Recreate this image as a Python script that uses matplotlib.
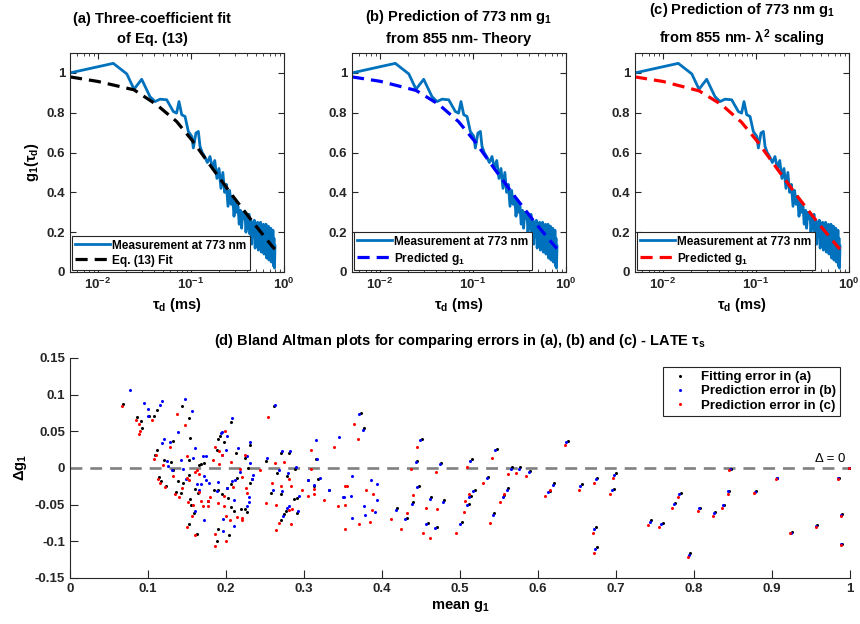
import numpy as np
import matplotlib
matplotlib.use('Agg')
import matplotlib.pyplot as plt

plt.rcParams['font.family'] = ['Liberation Sans', 'DejaVu Sans']
plt.rcParams['font.weight'] = 'bold'
plt.rcParams['font.size'] = 9.5
plt.rcParams['axes.titleweight'] = 'bold'
plt.rcParams['axes.labelweight'] = 'bold'
plt.rcParams['mathtext.fontset'] = 'custom'
plt.rcParams['mathtext.rm'] = 'Liberation Sans:bold'
plt.rcParams['mathtext.bf'] = 'Liberation Sans:bold'
plt.rcParams['mathtext.it'] = 'Liberation Sans:italic'
plt.rcParams['mathtext.default'] = 'bf'

# ---- top panels: measured g1 at 773 nm ----
meas_x = [0.005, 0.0146, 0.0204, 0.0244, 0.0295, 0.0362, 0.041, 0.0465, 0.0548, 0.0646,
          0.070, 0.0743, 0.0795, 0.0863, 0.0936, 0.102, 0.106, 0.113, 0.120, 0.125, 0.132,
          0.14, 0.15, 0.16, 0.17, 0.18, 0.19, 0.20, 0.21, 0.22, 0.23, 0.24, 0.25, 0.26, 0.27,
          0.28, 0.29, 0.30, 0.31, 0.32, 0.33, 0.34, 0.35, 0.36, 0.37, 0.38, 0.39, 0.40, 0.41,
          0.42, 0.43, 0.44, 0.45, 0.46, 0.47, 0.48, 0.49, 0.50, 0.51, 0.52, 0.53, 0.54, 0.55,
          0.56, 0.57, 0.58, 0.59, 0.60, 0.61, 0.62, 0.63, 0.64, 0.65, 0.66, 0.67, 0.68, 0.69,
          0.70, 0.71, 0.72, 0.73, 0.74, 0.75, 0.76, 0.77, 0.78, 0.79, 0.80]
meas_y = [1.0, 1.048, 0.995, 0.918, 0.968, 0.881, 0.856, 0.868, 0.865, 0.806,
          0.798, 0.856, 0.79, 0.781, 0.706, 0.681, 0.623, 0.698, 0.706, 0.631, 0.60,
          0.58, 0.55, 0.58, 0.52, 0.56, 0.47, 0.52, 0.42, 0.50, 0.40, 0.44, 0.33, 0.41, 0.34,
          0.38, 0.28, 0.35, 0.30, 0.33, 0.24, 0.31, 0.22, 0.30, 0.27, 0.30, 0.20, 0.28, 0.22,
          0.29, 0.19, 0.26, 0.14, 0.25, 0.18, 0.26, 0.12, 0.24, 0.16, 0.25, 0.11, 0.23, 0.15,
          0.25, 0.10, 0.22, 0.13, 0.24, 0.09, 0.21, 0.12, 0.24, 0.07, 0.20, 0.11, 0.23, 0.06,
          0.21, 0.10, 0.22, 0.05, 0.19, 0.08, 0.21, 0.03, 0.17, 0.02, 0.13]

fit_x = [0.005, 0.01, 0.0244, 0.0428, 0.07, 0.105, 0.174, 0.283, 0.465, 0.762, 0.8]
fit_y = [0.98, 0.957, 0.915, 0.84, 0.756, 0.656, 0.514, 0.38, 0.249, 0.124, 0.115]
theory_y = [0.98, 0.958, 0.912, 0.842, 0.755, 0.655, 0.512, 0.378, 0.248, 0.128, 0.118]
scaled_y = [0.98, 0.957, 0.910, 0.840, 0.752, 0.652, 0.510, 0.376, 0.246, 0.125, 0.115]

# ---- Bland-Altman data (mean g1, delta g1) ----
black_mean = [0.068, 0.086, 0.091, 0.092, 0.101, 0.108, 0.112, 0.143, 0.153, 0.154, 0.153, 0.132,
              0.112, 0.1085, 0.121, 0.129, 0.1325, 0.114, 0.117, 0.123, 0.136, 0.138, 0.1445,
              0.152, 0.1427, 0.154, 0.155, 0.1586, 0.152, 0.163, 0.165, 0.168, 0.172, 0.1645,
              0.160, 0.177, 0.1846, 0.189, 0.190, 0.192, 0.197, 0.206, 0.195, 0.203, 0.206,
              0.2107, 0.1897, 0.204, 0.189, 0.2017, 0.207, 0.2145, 0.2128, 0.2197, 0.2248,
              0.2265, 0.2308, 0.2337, 0.224, 0.2286, 0.2303, 0.251, 0.2615, 0.266, 0.2573,
              0.2705, 0.270, 0.281, 0.2705, 0.274, 0.2765, 0.2786, 0.288, 0.287, 0.2906,
              0.2906, 0.3056, 0.313, 0.318, 0.315, 0.3325, 0.1897,
              0.373, 0.377, 0.419, 0.432, 0.440, 0.447, 0.445, 0.451, 0.459, 0.463, 0.470,
              0.476, 0.480, 0.502, 0.511, 0.5135, 0.519, 0.515, 0.536, 0.544, 0.547, 0.557,
              0.562, 0.567, 0.577, 0.590, 0.615, 0.6205, 0.638, 0.656, 0.674, 0.675, 0.676,
              0.700, 0.697, 0.745, 0.760, 0.776, 0.783, 0.795, 0.808, 0.827, 0.838, 0.845,
              0.847, 0.879, 0.907, 0.925, 0.958, 0.986, 0.990, 0.990, 1.0]
black_diff = [0.087, 0.070, 0.064, 0.054, 0.071, 0.071, 0.079, 0.085, 0.068, 0.041, 0.011, 0.037,
              0.024, 0.018, 0.011, 0.008, -0.003, -0.012, -0.018, -0.024, -0.033, -0.018, -0.021,
              -0.009, -0.034, -0.042, -0.050, -0.061, -0.077, -0.090, 0.004, 0.005, 0.007, -0.034,
              -0.028, -0.045, -0.030, 0.024, 0.040, 0.043, 0.036, 0.063, -0.036, -0.041, -0.053,
              -0.059, -0.083, -0.091, -0.100, -0.027, -0.022, -0.014, 0.020, -0.056, -0.0555,
              -0.060, -0.021, -0.015, 0.0136, 0.0004, 0.032, 0.010, 0.085, -0.007, -0.034,
              -0.036, 0.020, 0.021, -0.0714, -0.0623, -0.059, -0.0114, -0.0014, -0.042, -0.041,
              -0.0614, -0.016, -0.025, -0.015, 0.0123, -0.030, -0.030,
              0.075, 0.054, -0.055, -0.068, -0.047, -0.024, 0.010, 0.040, -0.075, -0.040, -0.080,
              0.007, -0.044, -0.074, -0.049, -0.038, -0.030, 0.012, -0.012, -0.062, 0.026, -0.037,
              -0.027, 0.001, 0.001, -0.004, -0.031, -0.020, 0.037, -0.022, -0.081, -0.108, -0.013,
              -0.007, -0.028, -0.071, -0.075, -0.048, -0.034, -0.116, -0.054, -0.060, -0.050, -0.031,
              -0.001, -0.032, -0.013, -0.087, -0.078, -0.013, -0.063, -0.103, 0.0]

blue_mean = [0.0774, 0.095, 0.0996, 0.1004, 0.116, 0.118, 0.147, 0.157, 0.138, 0.160, 0.142,
             0.1286, 0.1205, 0.1175, 0.124, 0.126, 0.131, 0.1453, 0.1483, 0.160, 0.172, 0.158,
             0.170, 0.174, 0.166, 0.163, 0.168, 0.172, 0.174, 0.178, 0.188, 0.190, 0.193,
             0.195, 0.201, 0.208, 0.1945, 0.200, 0.2107, 0.1966, 0.210, 0.1966, 0.2017, 0.2073,
             0.212, 0.216, 0.218, 0.2265, 0.230, 0.230, 0.233, 0.235, 0.2265, 0.2308, 0.2308,
             0.253, 0.263, 0.268, 0.260, 0.272, 0.2714, 0.282, 0.273, 0.2786, 0.281, 0.280,
             0.2897, 0.293, 0.292, 0.3056, 0.313, 0.320, 0.316, 0.317, 0.3325, 0.345, 0.351,
             0.361, 0.350, 0.360, 0.361, 0.377, 0.378, 0.386, 0.391, 0.393, 0.394,
             0.371, 0.375, 0.4175, 0.430, 0.438, 0.4455, 0.443, 0.449, 0.457, 0.461, 0.468,
             0.474, 0.478, 0.500, 0.509, 0.5115, 0.517, 0.513, 0.534, 0.542, 0.545, 0.555,
             0.560, 0.565, 0.575, 0.588, 0.613, 0.619, 0.636, 0.654, 0.672, 0.6735, 0.674,
             0.698, 0.6955, 0.743, 0.758, 0.774, 0.781, 0.7935, 0.807, 0.8255, 0.837, 0.844,
             0.846, 0.878, 0.906, 0.924, 0.957, 0.985, 0.989, 0.989, 0.999]
blue_diff = [0.107, 0.088, 0.081, 0.071, 0.086, 0.092, 0.094, 0.078, 0.049, 0.027, 0.011,
             0.036, 0.040, 0.034, 0.009, 0.003, -0.003, -0.001, -0.015, -0.058, -0.0714, 0.0136,
             0.016, 0.016, -0.030, -0.022, -0.022, -0.0105, -0.016, -0.021, -0.032, -0.019, 0.048,
             0.0495, 0.043, 0.068, 0.018, 0.025, -0.043, -0.069, -0.079, -0.0855, -0.027, -0.018,
             -0.016, 0.027, -0.006, -0.0514, -0.047, -0.0396, -0.015, -0.0095, 0.017, 0.007, 0.036,
             0.0136, 0.086, -0.003, -0.030, -0.032, 0.0236, 0.0236, -0.066, -0.0545, -0.052, -0.007,
             0.0014, -0.0387, -0.058, -0.016, -0.0228, -0.0137, 0.0386, 0.0123, -0.0296, 0.042, -0.039,
             -0.011, -0.039, -0.038, -0.068, -0.052, -0.064, -0.016, -0.060, -0.043, -0.022,
             0.073, 0.052, -0.057, -0.070, -0.049, -0.026, 0.008, 0.038, -0.077, -0.042, -0.082,
             0.005, -0.046, -0.076, -0.051, -0.040, -0.032, 0.010, -0.014, -0.064, 0.024, -0.039,
             -0.030, -0.001, -0.001, -0.006, -0.033, -0.023, 0.035, -0.024, -0.083, -0.110, -0.015,
             -0.009, -0.030, -0.073, -0.077, -0.049, -0.035, -0.118, -0.055, -0.061, -0.051, -0.032,
             -0.002, -0.033, -0.014, -0.088, -0.079, -0.014, -0.064, -0.104, 0.0]

red_mean = [0.067, 0.0846, 0.0889, 0.090, 0.0885, 0.105, 0.1368, 0.147, 0.1496, 0.1278, 0.1107,
            0.1077, 0.119, 0.1316, 0.113, 0.116, 0.1214, 0.1346, 0.143, 0.150, 0.1526, 0.140,
            0.151, 0.158, 0.156, 0.1504, 0.1607, 0.160, 0.163, 0.166, 0.166, 0.171, 0.168,
            0.177, 0.1795, 0.177, 0.183, 0.1855, 0.1906, 0.199, 0.1945, 0.1906, 0.190, 0.197,
            0.1978, 0.2004, 0.205, 0.2137, 0.1855, 0.1996, 0.1855, 0.2085, 0.206, 0.218, 0.221,
            0.220, 0.220, 0.2265, 0.2256, 0.224, 0.244, 0.254, 0.263, 0.2594, 0.251, 0.264,
            0.271, 0.274, 0.2637, 0.268, 0.281, 0.284, 0.283, 0.281, 0.283, 0.297, 0.3056,
            0.309, 0.313, 0.3128, 0.3085, 0.325, 0.3385, 0.343, 0.3526, 0.353, 0.3547, 0.353,
            0.3705, 0.379, 0.388, 0.387, 0.385,
            0.3645, 0.369, 0.411, 0.424, 0.4317, 0.440, 0.437, 0.4455, 0.4526, 0.456, 0.462,
            0.4696, 0.471, 0.495, 0.505, 0.506, 0.5115, 0.509, 0.530, 0.538, 0.5415, 0.5517,
            0.556, 0.562, 0.572, 0.585, 0.609, 0.616, 0.634, 0.652, 0.670, 0.672, 0.672,
            0.696, 0.692, 0.741, 0.7555, 0.772, 0.779, 0.792, 0.8055, 0.824, 0.8355, 0.843,
            0.845, 0.877, 0.905, 0.923, 0.9565, 0.9846, 0.989, 0.989, 0.999]
red_diff = [0.085, 0.066, 0.060, 0.050, 0.047, 0.065, 0.074, 0.058, 0.017, 0.029, 0.018,
            0.012, 0.0045, -0.0105, -0.015, -0.020, -0.026, -0.035, -0.027, -0.014, -0.017, -0.039,
            -0.046, -0.051, -0.065, -0.080, -0.092, -0.005, -0.003, -0.008, -0.033, -0.052, -0.045,
            -0.045, -0.040, -0.052, 0.011, 0.029, 0.023, 0.050, 0.018, 0.006, -0.048, -0.038,
            -0.052, -0.065, -0.0705, -0.067, -0.090, -0.100, -0.106, -0.026, 0.008, -0.001, -0.012,
            -0.068, -0.0715, -0.034, -0.027, 0.018, -0.003, 0.070, 0.007, -0.0205, -0.048, -0.050,
            -0.024, 0.0077, -0.085, -0.075, -0.057, -0.056, -0.076, -0.015, -0.025, -0.0305, -0.0378,
            0.025, -0.0287, -0.036, -0.0014, -0.043, 0.029, -0.052, -0.051, -0.083, -0.0245, -0.025,
            -0.077, -0.030, -0.036, -0.057, -0.074,
            0.060, 0.0395, -0.070, -0.083, -0.061, -0.037, -0.002, 0.028, -0.089, -0.054, -0.095,
            -0.006, -0.056, -0.089, -0.060, -0.045, -0.036, 0.002, -0.021, -0.075, 0.013, -0.046,
            -0.035, -0.008, -0.007, -0.011, -0.038, -0.030, 0.031, -0.030, -0.089, -0.116, -0.020,
            -0.014, -0.035, -0.078, -0.081, -0.054, -0.039, -0.122, -0.059, -0.065, -0.054, -0.035,
            -0.003, -0.034, -0.015, -0.089, -0.080, -0.015, -0.065, -0.105, -0.0005]

meas_color = '#0072BD'
edge = '#262626'

fig = plt.figure(figsize=(8.6, 6.24), dpi=100)
W, H = 860.0, 624.0


def px_axes(left, top, right, bottom):
    return fig.add_axes([left / W, 1 - bottom / H, (right - left) / W, (bottom - top) / H])


panels = [
    (70, '(a) Three-coefficient fit\nof Eq. (13)', fit_y, 'k', 'Eq. (13) Fit', 0.385),
    (352, '(b) Prediction of 773 nm g$_1$\nfrom 855 nm- Theory', theory_y, 'b', 'Predicted g$_1$', 0.5),
    (635, '(c) Prediction of 773 nm g$_1$\nfrom 855 nm- $\\lambda^2$ scaling', scaled_y, 'r', 'Predicted g$_1$', 0.5),
]

for i, (left, title, pred, col, lab, tx) in enumerate(panels):
    ax = px_axes(left, 53, left + 214, 272)
    ax.plot(meas_x, meas_y, color=meas_color, lw=2.0, label='Measurement at 773 nm')
    ax.plot(fit_x, pred, color=col, lw=2.3, linestyle=(0, (3.8, 2.2)), label=lab)
    ax.set_xscale('log')
    ax.set_xlim(0.005, 1)
    ax.set_ylim(0, 1.1)
    ax.set_yticks([0, 0.2, 0.4, 0.6, 0.8, 1])
    ax.set_yticklabels(['0', '0.2', '0.4', '0.6', '0.8', '1'])
    ax.tick_params(which='both', direction='in', top=True, right=True, colors=edge)
    ax.tick_params(which='major', length=4)
    ax.tick_params(which='minor', length=2)
    for s in ax.spines.values():
        s.set_color(edge)
        s.set_linewidth(0.8)
    ax.set_title(title, fontsize=10.5, pad=7, linespacing=1.55, x=tx)
    ax.set_xlabel('$\\tau_d$ (ms)', fontsize=10.5, labelpad=3)
    if i == 0:
        ax.set_ylabel('g$_1$($\\tau_d$)', fontsize=10.5)
    leg = ax.legend(loc='lower left', fontsize=8.6, handlelength=2.9, borderaxespad=0.15,
                    labelspacing=0.25, handletextpad=0.2, borderpad=0.3, fancybox=False,
                    framealpha=1)
    leg.get_frame().set_edgecolor(edge)
    leg.get_frame().set_linewidth(0.8)

# ---- Bland-Altman panel ----
ax = px_axes(70, 358, 850, 578)
ax.axhline(0, color='#808080', lw=1.9, linestyle=(0, (4.5, 3)))
ax.plot(black_mean, black_diff, 'o', color='k', ms=2.2, mew=0, label='Fitting error in (a)')
ax.plot(blue_mean, blue_diff, 'o', color='b', ms=2.2, mew=0, label='Prediction error in (b)')
ax.plot(red_mean, red_diff, 'o', color='r', ms=2.2, mew=0, label='Prediction error in (c)')
ax.text(0.994, 0.004, '\u0394 = 0', ha='right', va='bottom', fontsize=9.5, fontweight='normal')
ax.set_xlim(0, 1)
ax.set_ylim(-0.15, 0.15)
ax.set_xticks(np.arange(0, 1.01, 0.1))
ax.set_xticklabels(['0', '0.1', '0.2', '0.3', '0.4', '0.5', '0.6', '0.7', '0.8', '0.9', '1'])
ax.set_yticks([-0.15, -0.1, -0.05, 0, 0.05, 0.1, 0.15])
ax.set_yticklabels(['-0.15', '-0.1', '-0.05', '0', '0.05', '0.1', '0.15'])
ax.tick_params(direction='in', length=6, colors=edge)
ax.spines['top'].set_visible(False)
ax.spines['right'].set_visible(False)
for s in ['left', 'bottom']:
    ax.spines[s].set_color(edge)
    ax.spines[s].set_linewidth(0.8)
ax.set_title('(d) Bland Altman plots for comparing errors in (a), (b) and (c) - LATE $\\tau_s$',
             fontsize=10.5, pad=9)
ax.set_xlabel('mean g$_1$', fontsize=10.5, labelpad=3)
ax.set_ylabel('$\\Delta$g$_1$', fontsize=10.5, labelpad=4)
leg = ax.legend(loc='upper right', fontsize=9.5, handlelength=2.0, markerscale=1.0,
                labelspacing=0.15, handletextpad=0.6, borderpad=0.3, fancybox=False,
                framealpha=1, borderaxespad=0, bbox_to_anchor=(0.987, 0.959))
leg.get_frame().set_edgecolor(edge)
leg.get_frame().set_linewidth(0.8)

fig.savefig('out.png', dpi=100)
